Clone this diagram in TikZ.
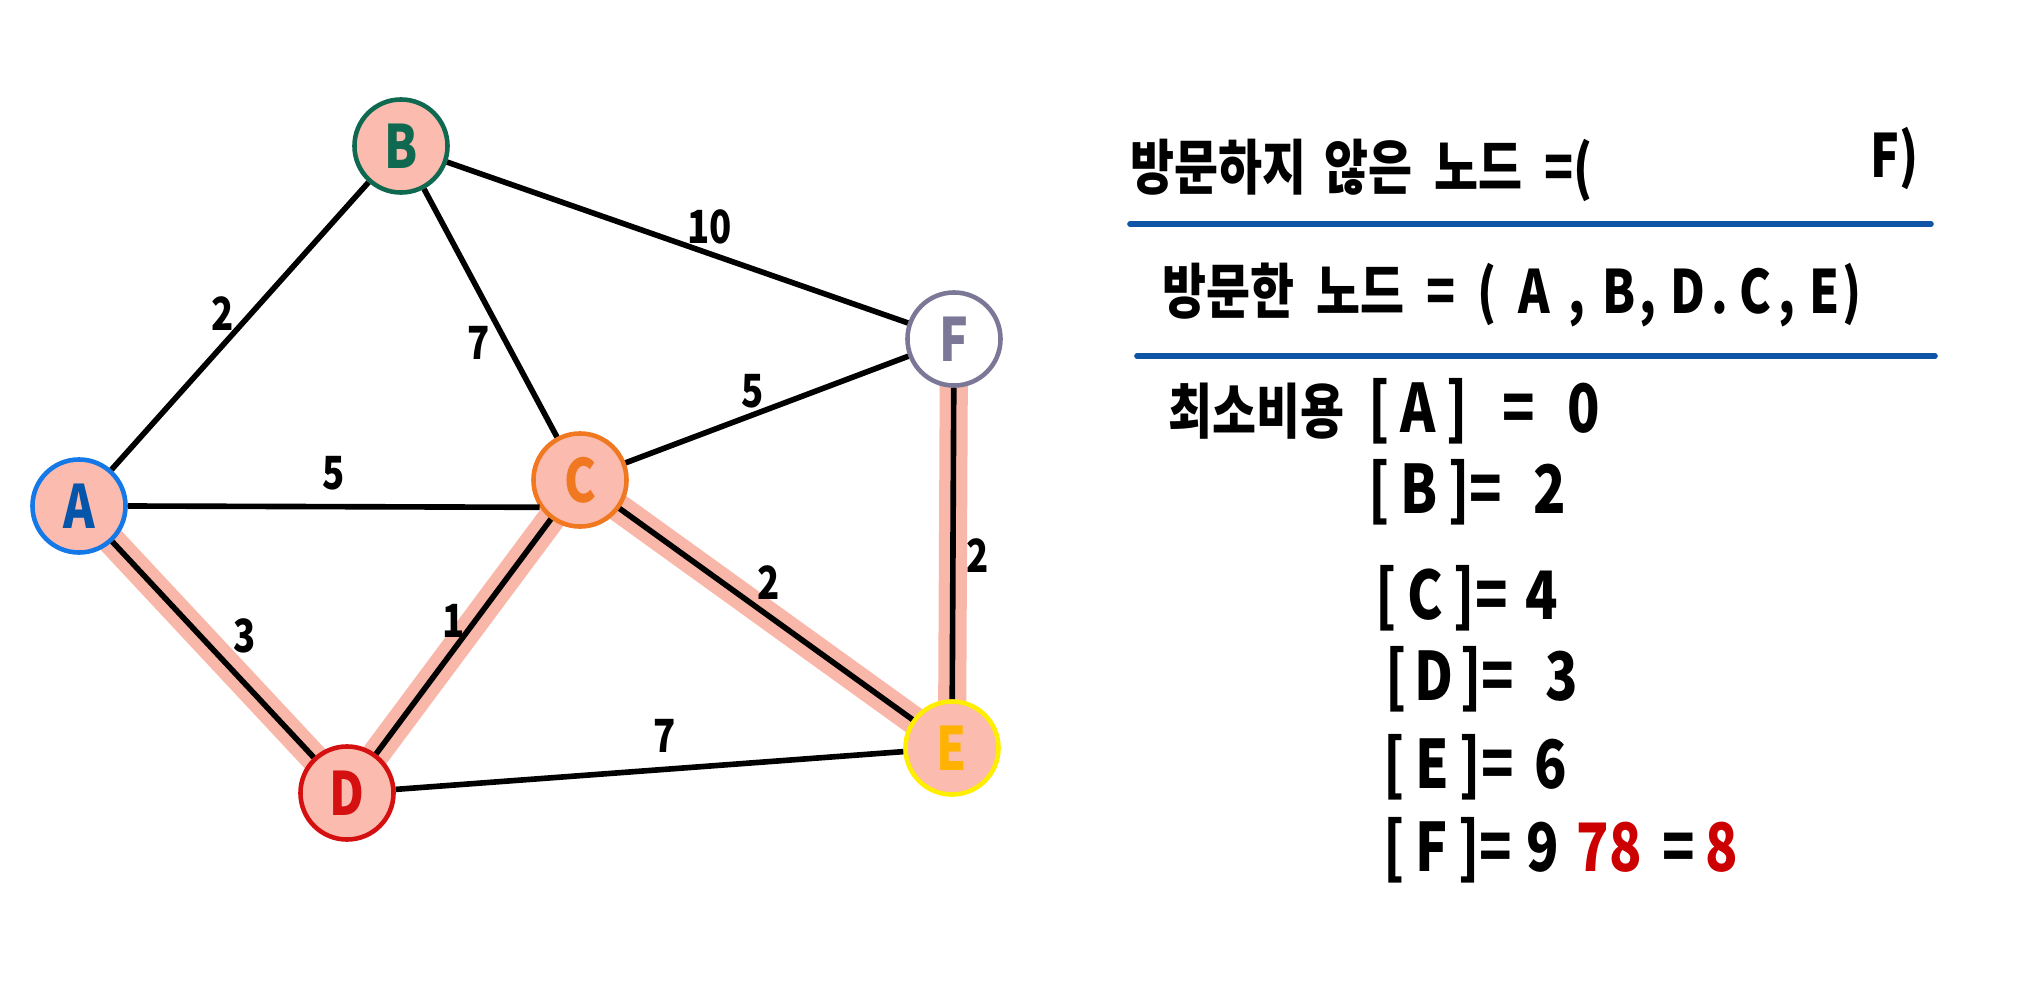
\documentclass[tikz,border=0pt]{standalone}
\usepackage{fontspec}
\setmainfont{Noto Sans CJK KR}[FakeStretch=0.8]
\usepackage{xcolor}
\usetikzlibrary{positioning,backgrounds}

\definecolor{pinkfill}{HTML}{FBBBAE}
\definecolor{hilitecol}{HTML}{F9B7A9}
\definecolor{ablue}{HTML}{1478E6}
\definecolor{atext}{HTML}{0555AA}
\definecolor{bgreen}{HTML}{0F6950}
\definecolor{corange}{HTML}{F07820}
\definecolor{dred}{HTML}{D41010}
\definecolor{eyellow}{HTML}{FFEE00}
\definecolor{etext}{HTML}{FFB300}
\definecolor{fgray}{HTML}{7A7896}
\definecolor{rulecol}{HTML}{0F55A5}
\definecolor{costred}{HTML}{CC0000}

\newcommand{\brk}[1]{[\kern3pt#1\kern3pt]}

\begin{document}
\begin{tikzpicture}[
  x=0.01cm, y=-0.01cm,
  vtx/.style={circle, draw, line width=1.3pt, fill=pinkfill, minimum size=0.93cm, inner sep=0pt, font=\fontsize{17}{17}\selectfont\bfseries},
  edge/.style={line width=1.6pt, black},
  hilite/.style={line width=8pt, hilitecol, line cap=round},
  wt/.style={font=\fontsize{13}{13}\selectfont\bfseries, inner sep=1pt},
  txt/.style={anchor=west, font=\fontsize{17}{17}\selectfont\bfseries, inner sep=0pt},
  cost/.style={anchor=west, font=\fontsize{19}{19}\selectfont\bfseries, inner sep=0pt},
  rule/.style={line width=1.6pt, rulecol, line cap=round},
]
\useasboundingbox (0,0) rectangle (2029,1000);

%% --- Vertices ---
\node[vtx, draw=ablue, text=atext]      (A) at (79,506)  {A};
\node[vtx, draw=bgreen, text=bgreen]    (B) at (401,146) {B};
\node[vtx, draw=corange, text=corange]  (C) at (580,480) {C};
\node[vtx, draw=dred, text=dred]        (D) at (347,793) {D};
\node[vtx, draw=eyellow, text=etext]    (E) at (952,748) {E};
\node[vtx, draw=fgray, text=fgray, fill=white] (F) at (954,339) {F};

%% --- Shortest path tree (highlight) ---
\begin{scope}[on background layer]
  \draw[hilite] (A.center) -- (D.center);
  \draw[hilite] (D.center) -- (C.center);
  \draw[hilite] (C.center) -- (E.center);
  \draw[hilite] (E.center) -- (F.center);
\end{scope}

%% --- Edges ---
\draw[edge] (A) -- node[wt, pos=0.48, above left=-2pt]{2} (B);
\draw[edge] (A.east) -- node[wt, above=3pt]{5} (C.214);
\draw[edge] (A) -- node[wt, pos=0.56, above right=1pt]{3} (D);
\draw[edge] (B) -- node[wt, pos=0.62, left=3pt]{7} (C);
\draw[edge] (B) -- node[wt, pos=0.57, above=1pt]{10} (F);
\draw[edge] (C) -- node[wt, pos=0.45, above=0pt]{5} (F);
\draw[edge] (C) -- node[wt, pos=0.5, above left=-3pt]{1} (D);
\draw[edge] (C) -- node[wt, pos=0.51, above=3pt]{2} (E);
\draw[edge] (D) -- node[wt, pos=0.53, above=3pt]{7} (E);
\draw[edge] (E) -- node[wt, pos=0.46, right=2pt]{2} (F);

%% --- Node sets ---
\node[txt] (unvisited) at (1130,170) {방문하지 \kern2pt 않은 \ 노드 \ =(};
\node[txt] (unvisitedF) at (1870,158) {F)};
\coordinate (r1a) at (1130,224);
\coordinate (r1b) at (1931,224);
\draw[rule] (r1a) -- (r1b);

\node[txt] (visited) at (1162,295)
  {방문한 \ 노드 \ = \ ( \ A \kern2pt,\kern5pt B\kern1pt,\kern4pt D\kern2pt.\kern3pt C\kern2pt,\kern4pt E\kern1pt)};
\coordinate (r2a) at (1137,356);
\coordinate (r2b) at (1935,356);
\draw[rule] (r2a) -- (r2b);

%% --- Minimum costs ---
\node[txt] (mincost) at (1168,411) {최소비용};
\node[cost] (costA) at (1368,411) {\brk{A}\hspace{10pt}=\hspace{9pt}0};
\node[cost] (costB) at (1368,492) {\brk{B}=\hspace{9pt}2};
\node[cost] (costC) at (1375,598) {\brk{C}=\hspace{5pt}4};
\node[cost] (costD) at (1385,679) {[\kern2pt D\kern2pt]=\hspace{9pt}3};
\node[cost] (costE) at (1383,767) {\brk{E}=\hspace{6pt}6};
\node[cost] (costF) at (1383,850) {\brk{F}=\hspace{4pt}9\hspace{5pt}\textcolor{costred}{78}\hspace{6pt}=\hspace{3pt}\textcolor{costred}{8}};

\end{tikzpicture}
\end{document}
